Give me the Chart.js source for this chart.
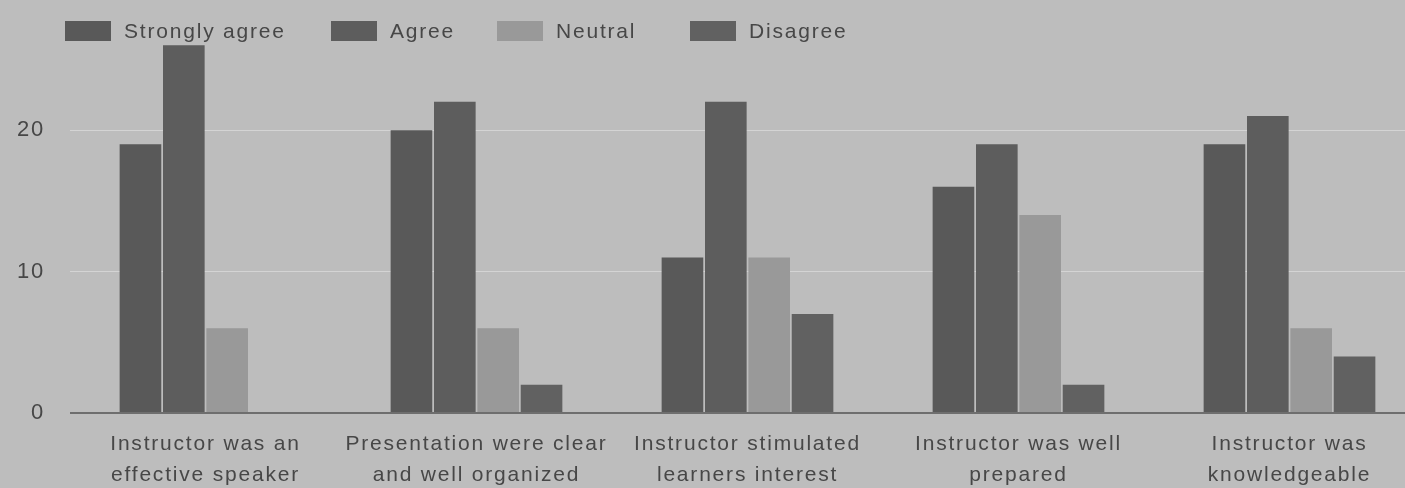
<!DOCTYPE html>
<html>
<head>
<meta charset="utf-8">
<script src="https://cdn.jsdelivr.net/npm/chart.js@4"></script>
<style>
  html, body { margin: 0; padding: 0; background: #bdbdbd; overflow: hidden; }
  #wrap { position: relative; width: 1433px; height: 488px; }
  #legend { position: absolute; top: 0; left: 0; font-family: "Liberation Sans", Arial, sans-serif; font-size: 21px; letter-spacing: 1.8px; color: #474747; }
  #legend .item { position: absolute; top: 19px; display: flex; align-items: center; white-space: nowrap; }
  #legend .box { width: 46px; height: 20px; margin-right: 13px; }
</style>
</head>
<body>
<div id="wrap">
  <canvas id="chart"></canvas>
  <div id="legend"></div>
</div>
<script>
// values
const categories = [
    ['Instructor was an', 'effective speaker'],
    ['Presentation were clear', 'and well organized'],
    ['Instructor stimulated', 'learners interest'],
    ['Instructor was well', 'prepared'],
    ['Instructor was', 'knowledgeable']
];
const stronglyAgree = [19, 20, 11, 16, 19];
const agree = [26, 22, 22, 19, 21];
const neutral = [6, 6, 11, 14, 6];
const disagree = [0, 2, 7, 2, 4];
const yTicks = [0, 10, 20];

const series = [
    { label: 'Strongly agree', data: stronglyAgree, color: '#595959' },
    { label: 'Agree', data: agree, color: '#5d5d5d' },
    { label: 'Neutral', data: neutral, color: '#999999' },
    { label: 'Disagree', data: disagree, color: '#616161' }
];
const legendLeft = [65, 331, 497, 690];

Chart.defaults.font.family = '"Liberation Sans", Arial, sans-serif';
Chart.defaults.color = '#474747';

// the photo has wide letter spacing
const spacing = {
    id: 'spacing',
    beforeUpdate: c => { c.ctx.letterSpacing = '1.8px'; },
    beforeDraw: c => { c.ctx.letterSpacing = '1.8px'; }
};

const ctx = document.getElementById('chart').getContext('2d');
new Chart(ctx, {
    type: 'bar',
    data: {
        labels: categories,
        datasets: series.map(s => ({
            label: s.label, data: s.data, backgroundColor: s.color,
            barPercentage: 0.96, categoryPercentage: 0.64
        }))
    },
    options: {
        responsive: true, maintainAspectRatio: false, animation: false,
        layout: { padding: { left: 5, right: 8, top: 17, bottom: -10 } },
        plugins: { legend: { display: false }, tooltip: { enabled: false } },
        scales: {
            x: {
                grid: { display: false },
                border: { display: false },
                ticks: { font: { size: 21, lineHeight: 1.45 }, padding: 8, maxRotation: 0 }
            },
            y: {
                min: 0, max: 26.5,
                afterBuildTicks: scale => { scale.ticks = yTicks.map(v => ({ value: v })); },
                afterFit: scale => { scale.width = 65; },
                border: { display: false },
                grid: {
                    drawTicks: false,
                    color: c => c.tick.value === 0 ? '#6e6e6e' : 'rgba(222,222,222,0.7)',
                    lineWidth: c => c.tick.value === 0 ? 2 : 1
                },
                ticks: { font: { size: 22 }, padding: 25 }
            }
        }
    },
    plugins: [spacing]
});

const legend = document.getElementById('legend');
series.forEach((s, i) => {
    const item = document.createElement('div');
    item.className = 'item';
    item.style.left = legendLeft[i] + 'px';
    item.innerHTML = `<span class="box" style="background:${s.color}"></span><span>${s.label}</span>`;
    legend.appendChild(item);
});
</script>
</body>
</html>
